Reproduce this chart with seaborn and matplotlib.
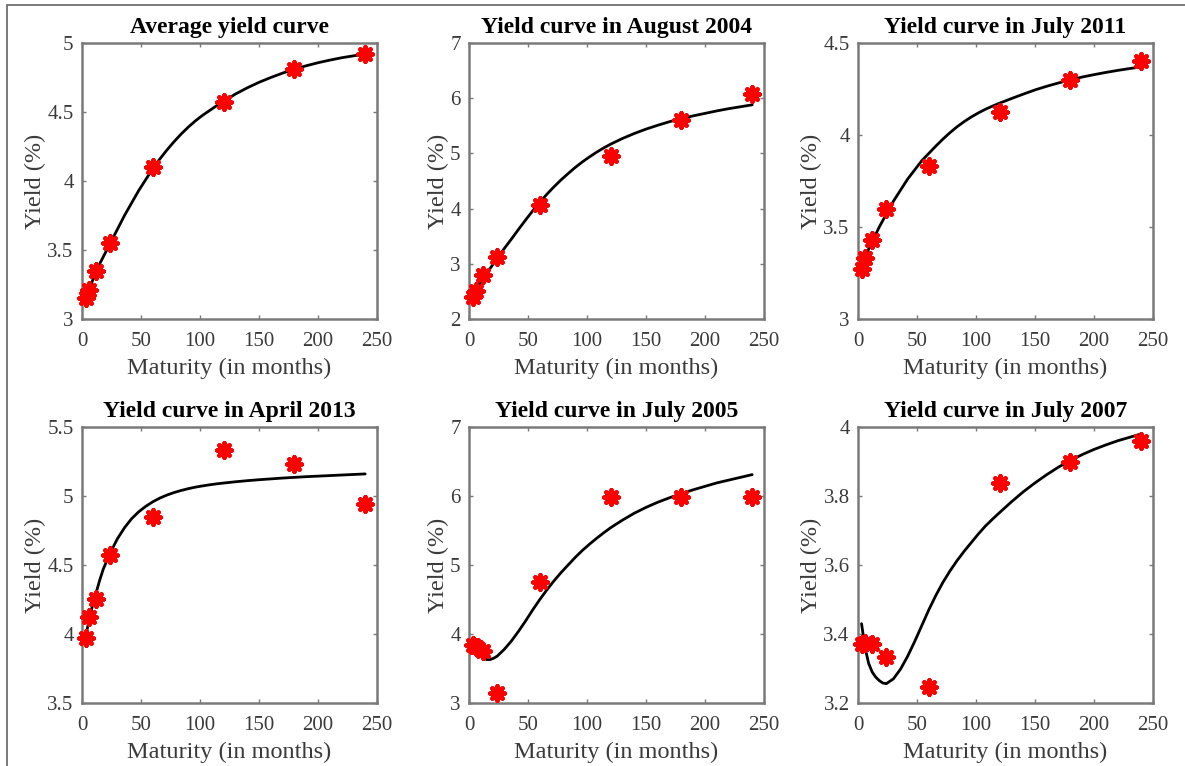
import numpy as np
import pandas as pd
import matplotlib
matplotlib.use("Agg")
import matplotlib.pyplot as plt
from matplotlib.lines import Line2D
from matplotlib.ticker import FuncFormatter
import seaborn as sns

# ---------------- data ----------------
maturities = [3, 6, 12, 24, 60, 120, 180, 240]

titles = ["Average yield curve", "Yield curve in August 2004", "Yield curve in July 2011",
          "Yield curve in April 2013", "Yield curve in July 2005", "Yield curve in July 2007"]

obs_avg = [3.15, 3.21, 3.35, 3.55, 4.10, 4.575, 4.815, 4.92]
obs_aug2004 = [2.39, 2.51, 2.79, 3.13, 4.07, 4.96, 5.60, 6.07]
obs_jul2011 = [3.27, 3.33, 3.43, 3.60, 3.83, 4.125, 4.30, 4.40]
obs_apr2013 = [3.97, 4.12, 4.25, 4.57, 4.85, 5.33, 5.235, 4.945]
obs_jul2005 = [3.84, 3.81, 3.75, 3.14, 4.75, 5.98, 5.98, 5.98]
obs_jul2007 = [3.37, 3.375, 3.372, 3.333, 3.246, 3.838, 3.90, 3.958]

curve_m = [3, 6, 9, 12, 15, 18, 21, 24, 30, 36, 42, 48, 54, 60, 66, 72, 78, 84, 90, 96,
           102, 108, 114, 120, 130, 140, 150, 160, 170, 180, 190, 200, 210, 220, 230, 240]
fit_avg = [3.15, 3.21, 3.28, 3.34, 3.40, 3.45, 3.50, 3.55, 3.65, 3.75, 3.84, 3.93, 4.01,
           4.09, 4.16, 4.225, 4.285, 4.34, 4.39, 4.435, 4.475, 4.51, 4.545, 4.578, 4.63, 4.675,
           4.715, 4.75, 4.782, 4.81, 4.835, 4.857, 4.876, 4.893, 4.907, 4.92]
fit_aug2004 = [2.45, 2.55, 2.64, 2.72, 2.82, 2.92, 3.01, 3.10, 3.28, 3.45, 3.625, 3.795, 3.96,
               4.115, 4.26, 4.395, 4.52, 4.635, 4.745, 4.845, 4.935, 5.02, 5.097, 5.167, 5.27,
               5.36, 5.44, 5.51, 5.575, 5.63, 5.68, 5.725, 5.77, 5.81, 5.845, 5.88]
fit_jul2011 = [3.29, 3.33, 3.38, 3.42, 3.46, 3.50, 3.535, 3.57, 3.64, 3.70, 3.76, 3.81, 3.86,
               3.90, 3.94, 3.978, 4.013, 4.045, 4.073, 4.098, 4.12, 4.14, 4.157, 4.173, 4.198,
               4.222, 4.245, 4.265, 4.283, 4.30, 4.315, 4.328, 4.34, 4.351, 4.361, 4.37]
fit_apr2013 = [3.98, 4.10, 4.21, 4.30, 4.39, 4.47, 4.53, 4.59, 4.69, 4.77, 4.835, 4.885, 4.925,
               4.958, 4.985, 5.007, 5.025, 5.04, 5.053, 5.064, 5.073, 5.081, 5.088, 5.094,
               5.103, 5.111, 5.118, 5.124, 5.13, 5.135, 5.14, 5.144, 5.148, 5.152, 5.156, 5.16]
fit_jul2005 = [3.84, 3.76, 3.69, 3.65, 3.63, 3.63, 3.65, 3.68, 3.78, 3.90, 4.04, 4.19, 4.35,
               4.50, 4.64, 4.77, 4.89, 5.00, 5.11, 5.21, 5.30, 5.385, 5.465, 5.54, 5.65, 5.75,
               5.835, 5.91, 5.975, 6.035, 6.09, 6.14, 6.19, 6.23, 6.27, 6.31]
fit_jul2007 = [3.43, 3.36, 3.315, 3.29, 3.275, 3.265, 3.258, 3.256, 3.27, 3.298, 3.335, 3.378,
               3.424, 3.47, 3.512, 3.55, 3.583, 3.613, 3.64, 3.665, 3.69, 3.713, 3.733, 3.752,
               3.783, 3.812, 3.838, 3.862, 3.884, 3.903, 3.92, 3.935, 3.948, 3.96, 3.97, 3.98]

observed = [obs_avg, obs_aug2004, obs_jul2011, obs_apr2013, obs_jul2005, obs_jul2007]
fitted = [fit_avg, fit_aug2004, fit_jul2011, fit_apr2013, fit_jul2005, fit_jul2007]

y_limits = [(3, 5), (2, 7), (3, 4.5), (3.5, 5.5), (3, 7), (3.2, 4)]
y_ticks = [[3, 3.5, 4, 4.5, 5], [2, 3, 4, 5, 6, 7], [3, 3.5, 4, 4.5],
           [3.5, 4, 4.5, 5, 5.5], [3, 4, 5, 6, 7], [3.2, 3.4, 3.6, 3.8, 4.0]]
x_ticks = [0, 50, 100, 150, 200, 250]

# ---------------- style ----------------
sns.set_style("ticks")
plt.rcParams["font.family"] = ["Liberation Serif", "DejaVu Serif"]

W, H = 1185, 766
fig = plt.figure(figsize=(W / 100, H / 100), dpi=100)

col_left = [82, 469, 858]
row_top = [43, 427]
ax_w, ax_h = 295, 276

box_col = "#7a7a7a"
txt_col = "#3a3a3a"
asterisk = (8, 2, 0)

for i in range(6):
    r, c = divmod(i, 3)
    ax = fig.add_axes([col_left[c] / W, 1 - (row_top[r] + ax_h) / H, ax_w / W, ax_h / H])
    df_fit = pd.DataFrame({"m": curve_m, "y": fitted[i]})
    df_obs = pd.DataFrame({"m": maturities, "y": observed[i]})
    sns.lineplot(data=df_fit, x="m", y="y", color="black", lw=2.0, ax=ax, zorder=2)
    sns.scatterplot(data=df_obs, x="m", y="y", marker=asterisk, color="red", edgecolor="red",
                    s=105, linewidth=3.2, ax=ax, zorder=3, clip_on=False)
    ax.set_xlim(0, 250)
    ax.set_ylim(*y_limits[i])
    ax.set_xticks(x_ticks)
    ax.set_yticks(y_ticks[i])
    ax.yaxis.set_major_formatter(FuncFormatter(lambda v, p: f"{v:g}"))
    ax.tick_params(direction="in", length=3, width=1, color=box_col, top=True, right=True,
                   labelsize=15, labelcolor=txt_col, pad=6)
    ax.tick_params(axis="x", pad=9)
    for s in ax.spines.values():
        s.set_visible(True)
        s.set_color(box_col)
        s.set_linewidth(1.8)
    ax.set_xlabel("Maturity (in months)", fontsize=17.5, color=txt_col, labelpad=5)
    ax.set_ylabel("Yield (%)", fontsize=17.5, color=txt_col, labelpad=1)
    ax.set_title(titles[i], fontsize=17, fontweight="bold", color="black", pad=7)

# figure frame (top and left edges)
fig.add_artist(Line2D([7 / W, 7 / W], [0, 1 - 4.5 / H], transform=fig.transFigure,
                      color="#707070", lw=1.3))
fig.add_artist(Line2D([7 / W, 1], [1 - 4.5 / H, 1 - 4.5 / H], transform=fig.transFigure,
                      color="#707070", lw=1.3))

fig.savefig("out.png", dpi=100, facecolor="white")
